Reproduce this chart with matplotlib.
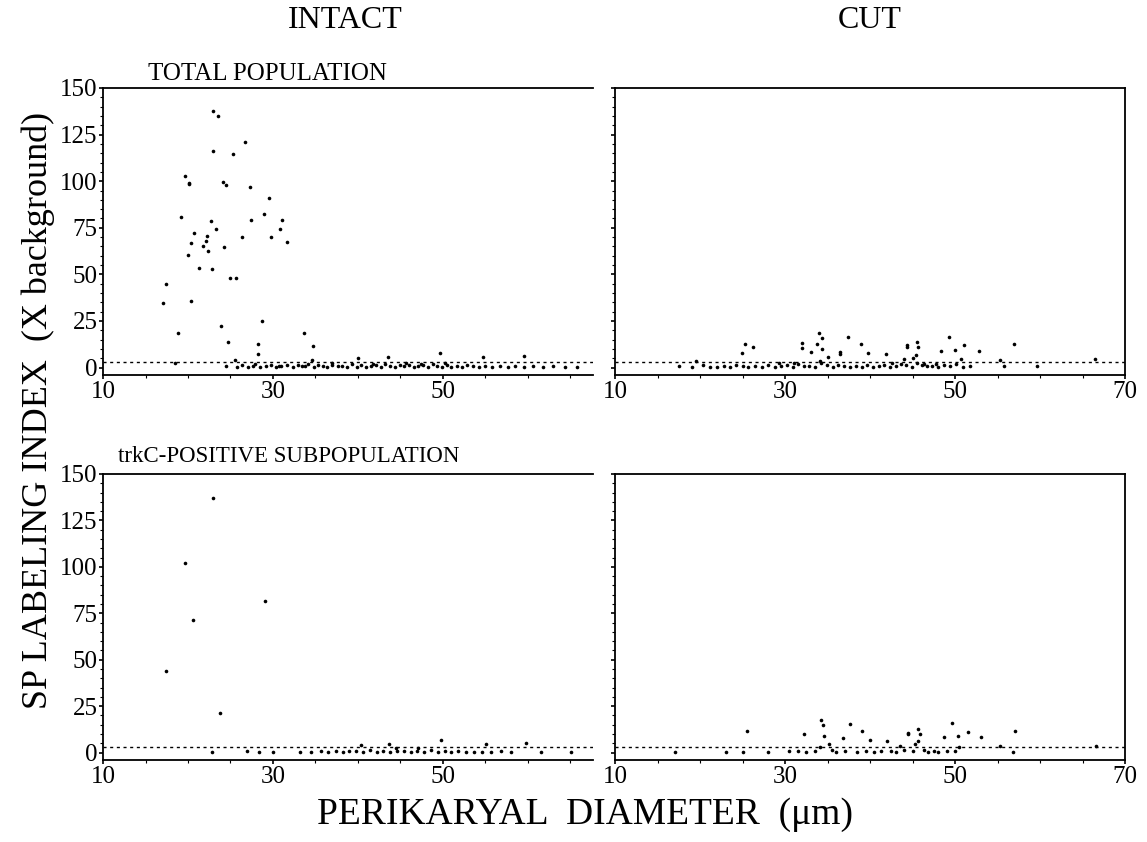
import matplotlib
matplotlib.use("Agg")
import matplotlib.pyplot as plt
from matplotlib.ticker import MultipleLocator

plt.rcParams['font.family'] = ['Liberation Serif', 'DejaVu Serif']

# ---------------- data ----------------
# INTACT, total population (diameter um, SP labeling index)
intact_total_x = [22.9, 23.5, 26.7, 22.9, 25.3, 19.6, 20.1, 20.1, 24.1, 24.5, 27.3, 29.5,
                  29.0, 19.2, 31.1, 27.4, 22.7, 30.8, 23.3, 20.7, 22.2, 29.8, 26.4, 22.1,
                  20.3, 31.6, 21.8, 24.2, 22.3, 20.0, 21.3, 22.8, 24.9, 25.6, 17.4, 17.1,
                  20.3, 28.7, 23.9, 18.8, 33.7, 24.7, 28.2, 34.7, 28.2, 34.6, 18.5, 25.5,
                  40.0, 43.5, 49.6, 54.7, 59.5,
                  24.5, 25.8, 26.4, 27.1, 27.9, 28.5, 29.2, 29.8, 30.4, 31.0, 31.6, 32.3,
                  32.9, 33.4, 34.1, 34.8, 35.3, 35.9, 36.4, 37.0, 37.6, 38.1, 38.7, 39.3,
                  39.9, 40.4, 41.0, 41.5, 42.1, 42.7, 43.2, 43.8, 44.3, 44.9, 45.4, 46.0,
                  46.6, 47.1, 47.7, 48.2, 48.8, 49.3, 49.9, 50.5, 51.0, 51.6, 52.2, 52.8,
                  53.5, 54.2, 55.0, 55.8, 56.7, 57.6, 58.5, 59.5, 60.6, 61.8, 63.0, 64.4,
                  65.8, 36.9, 41.8, 45.7, 47.4, 50.2, 33.8, 30.7, 27.6]
intact_total_y = [137.7, 134.9, 120.9, 116.0, 114.4, 102.9, 99.2, 98.7, 99.4, 98.2, 97.1, 90.8,
                  82.6, 80.9, 79.3, 79.0, 78.6, 74.4, 74.4, 72.3, 70.8, 70.2, 70.1, 68.0,
                  66.9, 67.4, 65.3, 64.5, 62.4, 60.3, 53.3, 52.8, 48.0, 48.0, 44.9, 34.9,
                  35.8, 25.0, 22.5, 18.3, 18.3, 13.5, 12.6, 11.5, 7.5, 3.8, 2.3, 3.8,
                  4.9, 5.8, 7.9, 5.8, 6.1,
                  0.8, 0.3, 1.2, 0.5, 1.8, 0.2, 0.9, 1.4, 0.4, 0.7, 1.6, 0.3,
                  1.1, 0.6, 2.0, 0.2, 1.3, 0.8, 0.1, 1.5, 0.6, 1.0, 0.3, 1.7,
                  0.5, 1.2, 0.2, 0.9, 1.4, 0.4, 1.8, 0.7, 0.3, 1.1, 0.6, 1.5,
                  0.2, 0.9, 1.3, 0.4, 1.7, 0.8, 0.1, 1.2, 0.5, 0.9, 0.3, 1.4,
                  0.6, 0.2, 1.0, 0.4, 0.7, 0.3, 0.9, 0.2, 0.6, 0.4, 0.8, 0.3,
                  0.5, 2.3, 2.1, 2.5, 1.9, 2.2, 1.0, 0.9, 0.6]

# CUT, total population
cut_total_x = [24.9, 25.3, 26.2, 32.0, 32.0, 33.1, 34.0, 34.4, 33.8, 34.4, 35.0, 36.5,
               36.5, 37.4, 38.9, 39.8, 34.1, 19.5, 41.9, 44.3, 44.3, 45.5, 45.6, 45.4,
               45.0, 44.0, 48.4, 49.3, 50.0, 51.1, 52.8, 56.9, 50.7, 55.3, 66.5,
               17.5, 19.0, 20.3, 21.2, 22.0, 22.8, 23.5, 24.2, 25.0, 25.7, 26.5, 27.3,
               28.0, 28.8, 29.5, 30.2, 30.9, 31.5, 32.2, 32.8, 33.5, 34.2, 34.9, 35.6,
               36.2, 36.9, 37.6, 38.3, 39.0, 39.7, 40.4, 41.0, 41.7, 42.3, 43.0, 43.6,
               44.2, 44.9, 45.5, 46.1, 46.7, 47.3, 48.0, 48.7, 49.4, 50.1, 50.9, 51.8,
               55.8, 59.7, 29.3, 31.0, 42.6, 46.4, 47.8]
cut_total_y = [7.9, 12.4, 11.0, 13.3, 10.7, 8.4, 18.5, 15.9, 12.7, 9.8, 5.8, 7.3,
               8.4, 16.6, 12.4, 7.9, 3.7, 3.7, 7.5, 11.9, 11.2, 13.6, 11.0, 7.0,
               5.2, 4.5, 8.9, 16.6, 9.4, 12.2, 8.9, 12.7, 4.4, 4.0, 4.4,
               0.6, 0.3, 1.1, 0.5, 0.2, 0.9, 0.4, 1.3, 0.6, 0.2, 1.0, 0.5,
               1.4, 0.3, 0.8, 1.2, 0.4, 1.7, 0.6, 1.0, 0.3, 2.2, 1.1, 0.5,
               1.4, 0.7, 0.3, 1.0, 0.5, 1.6, 0.2, 0.8, 1.3, 0.4, 0.9, 2.0,
               1.2, 0.5, 2.4, 1.5, 0.6, 0.9, 0.3, 1.1, 0.7, 1.8, 0.4, 1.0,
               0.7, 0.7, 2.6, 2.4, 2.7, 2.1, 1.9]

# INTACT, trkC-positive subpopulation
intact_trkc_x = [22.9, 19.6, 20.6, 29.1, 17.4, 23.8, 40.3, 43.7, 49.8, 55.1, 59.8, 47.1, 44.5,
                 22.8, 27.0, 28.3, 30.0, 33.2, 34.5, 35.6, 36.5, 37.4, 38.2, 39.0, 39.8,
                 40.6, 41.4, 42.2, 43.0, 43.8, 44.6, 45.4, 46.2, 47.0, 47.8, 48.6, 49.4,
                 50.2, 51.0, 51.8, 52.7, 53.6, 54.6, 55.7, 56.8, 58.0, 61.5, 65.1]
intact_trkc_y = [137.3, 101.9, 71.5, 81.5, 44.0, 21.5, 4.2, 4.8, 6.9, 4.4, 5.3, 2.6, 2.3,
                 0.2, 0.6, 0.1, 0.3, 0.5, 0.2, 0.8, 0.4, 1.0, 0.3, 0.6, 0.9,
                 0.4, 1.2, 0.5, 0.8, 0.3, 1.1, 0.6, 0.2, 0.9, 0.5, 1.3, 0.4,
                 0.7, 0.3, 0.6, 0.2, 0.5, 0.4, 0.3, 0.6, 0.2, 0.3, 0.2]

# CUT, trkC-positive subpopulation
cut_trkc_x = [25.5, 32.2, 34.2, 34.5, 34.6, 35.2, 34.1, 36.8, 37.6, 39.1, 40.0, 42.0,
              43.5, 44.5, 44.5, 45.7, 45.9, 45.7, 45.3, 48.7, 49.6, 50.3, 51.5, 53.0,
              57.0, 55.3, 66.6, 50.5,
              17.0, 23.0, 25.0, 28.0, 30.5, 31.5, 32.5, 33.5, 35.5, 36.0, 37.0, 38.5,
              39.5, 40.5, 41.3, 42.5, 43.0, 44.0, 45.0, 46.3, 46.8, 47.5, 48.0, 49.0,
              50.0, 56.8]
cut_trkc_y = [11.6, 9.8, 17.5, 14.9, 8.9, 4.6, 3.2, 7.7, 15.2, 11.4, 7.0, 6.5,
              3.5, 10.2, 10.7, 12.8, 10.2, 6.1, 4.6, 8.2, 15.8, 8.8, 11.2, 8.4,
              11.7, 3.3, 3.5, 3.2,
              0.3, 0.5, 0.2, 0.4, 0.6, 1.0, 0.3, 0.8, 1.2, 0.4, 0.7, 0.3,
              0.9, 0.5, 1.1, 0.6, 0.3, 1.4, 0.8, 1.6, 0.5, 0.9, 0.3, 0.6,
              1.0, 0.3]

threshold = 2.8
yticks = [0, 25, 50, 75, 100, 125, 150]

# ---------------- figure ----------------
W, H = 1147, 842
fig = plt.figure(figsize=(W / 100, H / 100), dpi=100)

def frac_rect(x0, y0, x1, y1):
    return [x0 / W, 1 - y1 / H, (x1 - x0) / W, (y1 - y0) / H]

ax_tl = fig.add_axes(frac_rect(103, 88, 593, 375))
ax_tr = fig.add_axes(frac_rect(615, 88, 1125, 375))
ax_bl = fig.add_axes(frac_rect(103, 474, 593, 760))
ax_br = fig.add_axes(frac_rect(615, 474, 1125, 760))

panels = [
    (ax_tl, intact_total_x, intact_total_y, True),
    (ax_tr, cut_total_x, cut_total_y, False),
    (ax_bl, intact_trkc_x, intact_trkc_y, True),
    (ax_br, cut_trkc_x, cut_trkc_y, False),
]

for ax, xs, ys, left in panels:
    ax.plot(xs, ys, 'o', color='black', markersize=2.6, markeredgewidth=0, clip_on=False)
    if left:
        ax.set_xlim(10, 10 + 490 / 8.5)
        ax.set_xticks([10, 30, 50])
        ax.spines['right'].set_visible(False)
        ax.set_yticks(yticks)
        ax.set_yticklabels([str(v) for v in yticks])
    else:
        ax.set_xlim(10, 70)
        ax.set_xticks([10, 30, 50, 70])
        ax.set_yticks(yticks)
        ax.set_yticklabels([])
    ax.set_ylim(-4, 150)
    ax.axhline(threshold, color='black', linestyle=(0, (2.2, 2.6)), linewidth=1.0)
    ax.yaxis.set_minor_locator(MultipleLocator(5))
    ax.xaxis.set_minor_locator(MultipleLocator(5))
    for sp in ax.spines.values():
        sp.set_linewidth(1.3)
    ax.tick_params(axis='both', which='major', direction='out', length=3, width=1.2,
                   labelsize=18)
    ax.tick_params(axis='both', which='minor', direction='out', length=2, width=0.8)
    ax.tick_params(axis='x', which='major', pad=1)
    ax.tick_params(axis='y', which='major', pad=1)

# texts
fig.text(345 / W, 1 - 20 / H, 'INTACT', ha='center', va='center', fontsize=23)
fig.text(870 / W, 1 - 20 / H, 'CUT', ha='center', va='center', fontsize=23)
fig.text(148 / W, 1 - 74 / H, 'TOTAL POPULATION', ha='left', va='center', fontsize=18)
fig.text(118 / W, 1 - 456 / H, 'trkC-POSITIVE SUBPOPULATION', ha='left', va='center',
         fontsize=16.5)
fig.text(38 / W, 1 - 410 / H, 'SP LABELING INDEX  (X background)', ha='center', va='center',
         rotation=90, fontsize=26)
fig.text(585 / W, 1 - 815 / H, 'PERIKARYAL  DIAMETER  (\u03bcm)', ha='center', va='center',
         fontsize=27)

fig.savefig('out.png', dpi=100)
